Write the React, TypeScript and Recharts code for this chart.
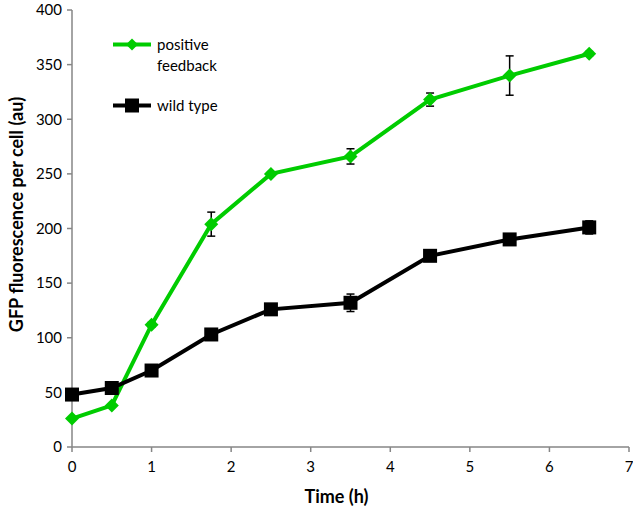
import React from 'react';
import { LineChart, Line, XAxis, YAxis, ErrorBar, Legend } from 'recharts';

const times = [0, 0.5, 1, 1.75, 2.5, 3.5, 4.5, 5.5, 6.5];
const positiveFeedback = [26, 38, 112, 204, 250, 266, 318, 340, 360];
const positiveFeedbackErr = [0, 0, 2, 11, 2, 7, 6, 18, 2];
const wildType = [48, 54, 70, 103, 126, 132, 175, 190, 201];
const wildTypeErr = [2, 2, 2, 2, 3, 8, 3, 2, 6];
const xTicks = [0, 1, 2, 3, 4, 5, 6, 7];
const yTicks = [0, 50, 100, 150, 200, 250, 300, 350, 400];
const seriesNames = ['positive feedback', 'wild type'];

const GREEN = '#00CC00';
const AXIS = '#868686';
const FONT = 'Lato, "Open Sans", sans-serif';

const data = times.map((t, i) => ({
  t,
  pf: positiveFeedback[i],
  pfErr: positiveFeedbackErr[i],
  wt: wildType[i],
  wtErr: wildTypeErr[i],
}));

const Diamond = (props: any) => {
  const { cx, cy } = props;
  if (cx == null || cy == null) return null;
  const r = 7;
  return <path d={`M${cx},${cy - r}L${cx + r},${cy}L${cx},${cy + r}L${cx - r},${cy}Z`} fill={GREEN} />;
};

const Square = (props: any) => {
  const { cx, cy } = props;
  if (cx == null || cy == null) return null;
  return <rect x={cx - 7} y={cy - 7} width={14} height={14} fill="#000" />;
};

const LegendContent = () => (
  <div style={{ fontFamily: FONT, fontSize: 15, color: '#000', lineHeight: '21px', textAlign: 'left' }}>
    <div style={{ display: 'flex', alignItems: 'flex-start' }}>
      <svg width={46} height={21}>
        <line x1={2} y1={10.5} x2={40} y2={10.5} stroke={GREEN} strokeWidth={4} />
        <path d="M21,4.5L27,10.5L21,16.5L15,10.5Z" fill={GREEN} />
      </svg>
      <div>positive<br />feedback</div>
    </div>
    <div style={{ display: 'flex', alignItems: 'center', marginTop: 19 }}>
      <svg width={46} height={21}>
        <line x1={2} y1={10.5} x2={40} y2={10.5} stroke="#000" strokeWidth={4} />
        <rect x={14} y={3.5} width={14} height={14} fill="#000" />
      </svg>
      <div>{seriesNames[1]}</div>
    </div>
  </div>
);

const YTitle = (props: any) => {
  const vb = props.viewBox || {};
  const cx = 16;
  const cy = vb.y + vb.height / 2 - 14;
  return (
    <text
      x={cx}
      y={cy}
      transform={`rotate(-90 ${cx} ${cy})`}
      textAnchor="middle"
      dominantBaseline="central"
      style={{ fontFamily: FONT, fontSize: 18, fontWeight: 700, fill: '#000' }}
    >
      GFP fluorescence per cell (au)
    </text>
  );
};

const XTitle = (props: any) => {
  const vb = props.viewBox || {};
  const cx = vb.x + vb.width / 2 - 14;
  const cy = 496;
  return (
    <text
      x={cx}
      y={cy}
      textAnchor="middle"
      dominantBaseline="central"
      style={{ fontFamily: FONT, fontSize: 18, fontWeight: 700, fill: '#000' }}
    >
      Time (h)
    </text>
  );
};

export default function App() {
  return (
    <div style={{ position: 'absolute', left: 0, top: 0, width: 633, height: 508, background: '#fff' }}>
      <LineChart
        width={633}
        height={508}
        data={data}
        margin={{ top: 10, right: 4, bottom: 11, left: 0 }}
      >
        <XAxis
          dataKey="t"
          type="number"
          domain={[0, 7]}
          ticks={xTicks}
          interval={0}
          height={50}
          axisLine={{ stroke: AXIS, strokeWidth: 1.5 }}
          tickLine={{ stroke: AXIS, strokeWidth: 1.5 }}
          tickSize={5}
          tickMargin={9}
          tick={{ fontFamily: FONT, fontSize: 15, fill: '#000' }}
          label={<XTitle />}
        />
        <YAxis
          type="number"
          domain={[0, 400]}
          ticks={yTicks}
          interval={0}
          width={72}
          axisLine={{ stroke: AXIS, strokeWidth: 1.5 }}
          tickLine={{ stroke: AXIS, strokeWidth: 1.5 }}
          tickSize={5}
          tickMargin={5}
          tick={{ fontFamily: FONT, fontSize: 15, fill: '#000' }}
          label={<YTitle />}
        />
        <Legend
          verticalAlign="middle"
          align="center"
          layout="vertical"
          content={<LegendContent />}
          wrapperStyle={{ position: 'absolute', left: 111, top: 34, width: 140 }}
        />
        <Line
          name={seriesNames[0]}
          dataKey="pf"
          stroke={GREEN}
          strokeWidth={4}
          dot={<Diamond />}
          activeDot={false}
          isAnimationActive={false}
        >
          <ErrorBar dataKey="pfErr" direction="y" width={4} stroke="#000" strokeWidth={1.5} isAnimationActive={false} />
        </Line>
        <Line
          name={seriesNames[1]}
          dataKey="wt"
          stroke="#000"
          strokeWidth={4}
          dot={<Square />}
          activeDot={false}
          isAnimationActive={false}
        >
          <ErrorBar dataKey="wtErr" direction="y" width={4} stroke="#000" strokeWidth={1.5} isAnimationActive={false} />
        </Line>
      </LineChart>
    </div>
  );
}
